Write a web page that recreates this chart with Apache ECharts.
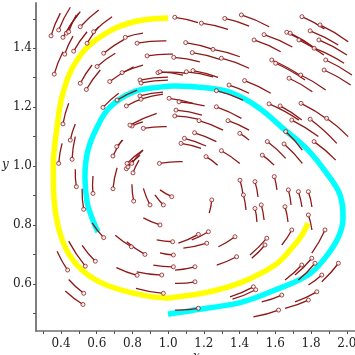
<!DOCTYPE html>
<html><head><meta charset="utf-8">
<script src="https://cdn.jsdelivr.net/npm/echarts@6/dist/echarts.min.js"></script>
<style>html,body{margin:0;padding:0;background:#fff}#c{width:355px;height:355px}</style>
</head><body><div id="c"></div>
<script>
// Trajectory: yellow orbit (x, y)
const yellowCurve = [
 [1.0,1.503],[0.803,1.489],[0.618,1.438],[0.490,1.360],[0.411,1.248],[0.378,1.132],
 [0.357,0.997],[0.357,0.969],[0.366,0.857],[0.411,0.742],[0.490,0.664],[0.618,0.606],
 [0.803,0.569],[0.994,0.552],[1.038,0.555],[1.223,0.572],[1.413,0.606],[1.598,0.664],
 [1.693,0.722],[1.749,0.766],[1.783,0.806]
];
// cyan orbit
const cyanCurve = [
 [0.999,0.497],[1.038,0.501],[1.223,0.518],[1.413,0.538],[1.598,0.579],[1.783,0.630],
 [1.878,0.688],[1.951,0.756],[1.979,0.823],[1.962,0.902],[1.895,0.969],[1.783,1.054],
 [1.654,1.122],[1.503,1.200],[1.357,1.248],[1.223,1.265],[1.038,1.272],[0.954,1.268],
 [0.803,1.251],[0.674,1.200],[0.602,1.132],[0.551,1.054],[0.534,0.963],[0.546,0.878],
 [0.574,0.823],[0.607,0.776]
];
// comet arrows: [headX, headY, tailX, tailY]
const comets = [
 [0.344,1.442,0.396,1.519],[0.387,1.462,0.452,1.539],[0.411,1.437,0.508,1.524],[0.430,1.451,0.499,1.519],
 [0.443,1.456,0.486,1.513],[0.508,1.473,0.611,1.530],[0.583,1.456,0.686,1.507],[0.546,1.417,0.611,1.473],
 [0.421,1.380,0.467,1.441],[0.471,1.390,0.546,1.456],[0.362,1.312,0.411,1.388],[0.508,1.281,0.574,1.343],
 [0.542,1.260,0.620,1.326],[0.602,1.338,0.704,1.383],[0.639,1.383,0.754,1.430],[0.760,1.437,0.859,1.451],
 [0.673,1.287,0.807,1.337],[0.742,1.317,0.859,1.343],[0.635,1.199,0.723,1.247],[0.714,1.224,0.826,1.258],
 [0.766,1.204,0.859,1.230],[0.798,1.136,0.859,1.150],[0.691,1.034,0.742,1.088],[0.411,1.143,0.443,1.213],
 [0.452,1.088,0.480,1.143],[0.387,1.009,0.406,1.077],[0.462,1.023,0.480,1.100],[0.770,1.009,0.859,1.054],
 [1.037,1.505,1.167,1.487],[1.186,1.485,1.335,1.464],[1.317,1.501,1.453,1.475],[0.826,1.417,0.990,1.425],
 [1.098,1.419,1.251,1.396],[1.251,1.396,1.401,1.371],[1.135,1.385,1.289,1.362],[0.882,1.374,1.027,1.380],
 [1.031,1.369,1.177,1.354],[1.298,1.366,1.453,1.332],[0.943,1.317,1.102,1.315],[0.954,1.320,1.083,1.309],
 [1.102,1.320,1.251,1.303],[1.139,1.324,1.279,1.301],[0.842,1.292,0.999,1.302],[0.848,1.282,0.999,1.292],
 [1.341,1.275,1.453,1.247],[1.270,1.256,1.419,1.224],[0.842,1.238,0.971,1.251],[0.848,1.227,0.971,1.244],
 [1.005,1.230,1.139,1.213],[1.061,1.218,1.204,1.204],[1.270,1.201,1.410,1.162],[1.044,1.190,1.189,1.173],
 [1.037,1.170,1.167,1.159],[1.173,1.154,1.307,1.122],[1.335,1.154,1.453,1.122],[1.148,1.113,1.270,1.083],
 [1.091,1.094,1.212,1.068],[1.072,1.077,1.184,1.060],[1.298,1.052,1.401,1.009],[1.212,1.032,1.277,1.003],
 [0.951,1.009,1.081,1.015],[1.401,1.111,1.453,1.088],
 [1.410,1.513,1.565,1.473],[1.749,1.507,1.875,1.465],[1.850,1.479,2.008,1.422],[1.795,1.459,1.952,1.411],
 [1.664,1.454,1.819,1.401],[1.683,1.451,1.836,1.394],[1.732,1.428,1.872,1.377],[1.844,1.428,2.001,1.377],
 [1.817,1.400,1.985,1.349],[1.537,1.446,1.695,1.404],[1.481,1.428,1.630,1.388],[1.882,1.360,2.029,1.309],
 [1.580,1.360,1.751,1.303],[1.602,1.349,1.766,1.292],[1.873,1.326,2.022,1.275],[1.677,1.298,1.807,1.252],
 [1.742,1.309,1.882,1.258],[1.428,1.290,1.574,1.247],[1.565,1.211,1.732,1.156],[1.627,1.204,1.748,1.156],
 [1.744,1.213,1.897,1.156],[1.692,1.156,1.841,1.100],[1.795,1.159,1.944,1.077],[1.887,1.162,2.008,1.100],
 [1.555,1.083,1.658,1.026],[1.649,1.075,1.751,1.009],[1.817,1.083,1.938,1.020],[1.527,1.037,1.593,1.003],
 [1.658,1.117,1.751,1.054],
 [0.486,0.930,0.480,0.989],[0.579,0.907,0.579,0.966],[0.691,0.923,0.714,0.994],[0.766,0.991,0.803,1.020],
 [0.803,0.977,0.837,1.020],[0.807,0.881,0.797,0.938],[0.527,0.853,0.518,0.923],[0.639,0.757,0.574,0.807],
 [0.794,0.726,0.704,0.765],[0.592,0.677,0.518,0.731],[0.536,0.660,0.443,0.745],[0.437,0.647,0.378,0.711],
 [0.826,0.629,0.710,0.655],[0.527,0.568,0.443,0.615],[0.523,0.530,0.424,0.576],[0.973,0.568,0.820,0.585],
 [0.870,0.700,0.768,0.743],[1.025,0.743,0.936,0.749],[1.029,0.698,0.954,0.705],[1.029,0.658,0.917,0.664],
 [0.964,0.630,0.824,0.641],[0.954,0.800,0.861,0.824],[1.020,0.896,0.954,0.919],[0.973,0.868,0.926,0.902],
 [0.898,0.868,0.861,0.924],
 [1.402,0.952,1.419,0.902],[1.486,0.947,1.503,0.895],[1.421,0.902,1.436,0.851],[1.521,0.868,1.537,0.817],
 [1.486,0.856,1.497,0.810],[1.654,0.862,1.671,0.810],[1.673,0.919,1.688,0.868],[1.729,0.913,1.749,0.861],
 [1.785,0.913,1.805,0.861],[1.785,0.834,1.805,0.783],[1.594,0.964,1.609,0.919],[1.244,0.885,1.230,0.840],
 [1.374,0.760,1.281,0.726],[1.225,0.777,1.132,0.749],[1.169,0.768,1.057,0.738],[1.383,0.692,1.272,0.664],
 [1.552,0.755,1.458,0.698],[1.542,0.732,1.468,0.687],[1.692,0.783,1.636,0.732],[1.878,0.783,1.804,0.704],
 [1.804,0.687,1.710,0.630],[1.822,0.670,1.729,0.613],[1.748,0.664,1.654,0.613],[1.953,0.670,1.860,0.607],
 [1.860,0.630,1.785,0.596],[1.477,0.590,1.346,0.556],[1.490,0.580,1.360,0.548],[1.636,0.562,1.524,0.539],
 [1.785,0.545,1.654,0.517],[1.618,0.511,1.477,0.488],[1.832,0.573,1.710,0.539],[1.216,0.738,1.085,0.721],
 [1.150,0.658,1.038,0.647],[1.150,0.607,1.038,0.602],[1.169,0.517,1.038,0.511],
 [0.796,1.009,0.859,1.054],[0.775,0.997,0.842,1.037],[0.712,1.066,0.747,1.088],[0.861,1.128,0.992,1.134],
 [0.786,1.139,0.936,1.179]
];
const xTicks = [0.3,0.4,0.5,0.6,0.7,0.8,0.9,1.0,1.1,1.2,1.3,1.4,1.5,1.6,1.7,1.8,1.9,2.0];
const xLabels = [0.4,0.6,0.8,1.0,1.2,1.4,1.6,1.8,2.0];
const yTicks = [0.5,0.6,0.7,0.8,0.9,1.0,1.1,1.2,1.3,1.4,1.5];
const yLabels = [0.6,0.8,1.0,1.2,1.4];

const cometColor = '#8e1818';
const font = 'DejaVu Serif';
const chart = echarts.init(document.getElementById('c'), null, {renderer:'canvas'});
chart.setOption({
  animation:false,
  backgroundColor:'#fff',
  grid:{left:36, right:0, top:3, bottom:24, containLabel:false, outerBoundsMode:'none'},
  xAxis:{type:'value', min:0.26, max:2.046,
    axisLine:{show:true, onZero:false, lineStyle:{color:'#707070', width:1.5}},
    axisTick:{show:true, customValues:xTicks, length:3, lineStyle:{color:'#505050'}},
    axisLabel:{customValues:xLabels, margin:7, color:'#222', fontFamily:font, fontSize:12,
      formatter:v=>v.toFixed(1)},
    splitLine:{show:false}},
  yAxis:{type:'value', min:0.44, max:1.5535,
    axisLine:{show:true, onZero:false, lineStyle:{color:'#808080', width:2}},
    axisTick:{show:true, customValues:yTicks, length:3, lineStyle:{color:'#505050'}},
    axisLabel:{customValues:yLabels, margin:4, color:'#222', fontFamily:font, fontSize:12,
      formatter:v=>v.toFixed(1)},
    splitLine:{show:false}},
  graphic:[
    {type:'text', left:2, top:159, style:{text:'y', font:'italic 12px "DejaVu Serif"', fill:'#222'}},
    {type:'text', left:193, top:351, style:{text:'x', font:'italic 12px "DejaVu Serif"', fill:'#222'}}
  ],
  series:[
    {type:'line', data:yellowCurve, showSymbol:false, smooth:0.4, z:2,
      lineStyle:{color:'#ffff00', width:5.5, cap:'butt'}},
    {type:'line', data:cyanCurve, showSymbol:false, smooth:0.4, z:2,
      lineStyle:{color:'#00ffff', width:5.5, cap:'butt'}},
    {type:'lines', coordinateSystem:'cartesian2d', z:3, silent:true,
      data:comets.map(c=>({coords:[[c[2],c[3]],[c[0],c[1]]]})),
      lineStyle:{color:cometColor, width:1.3, curveness:-0.05, opacity:1}},
    {type:'scatter', data:comets.map(c=>[c[0],c[1]]), symbol:'circle', symbolSize:4, z:4, silent:true,
      itemStyle:{color:'#fff', borderColor:cometColor, borderWidth:1}}
  ]
});
</script></body></html>
